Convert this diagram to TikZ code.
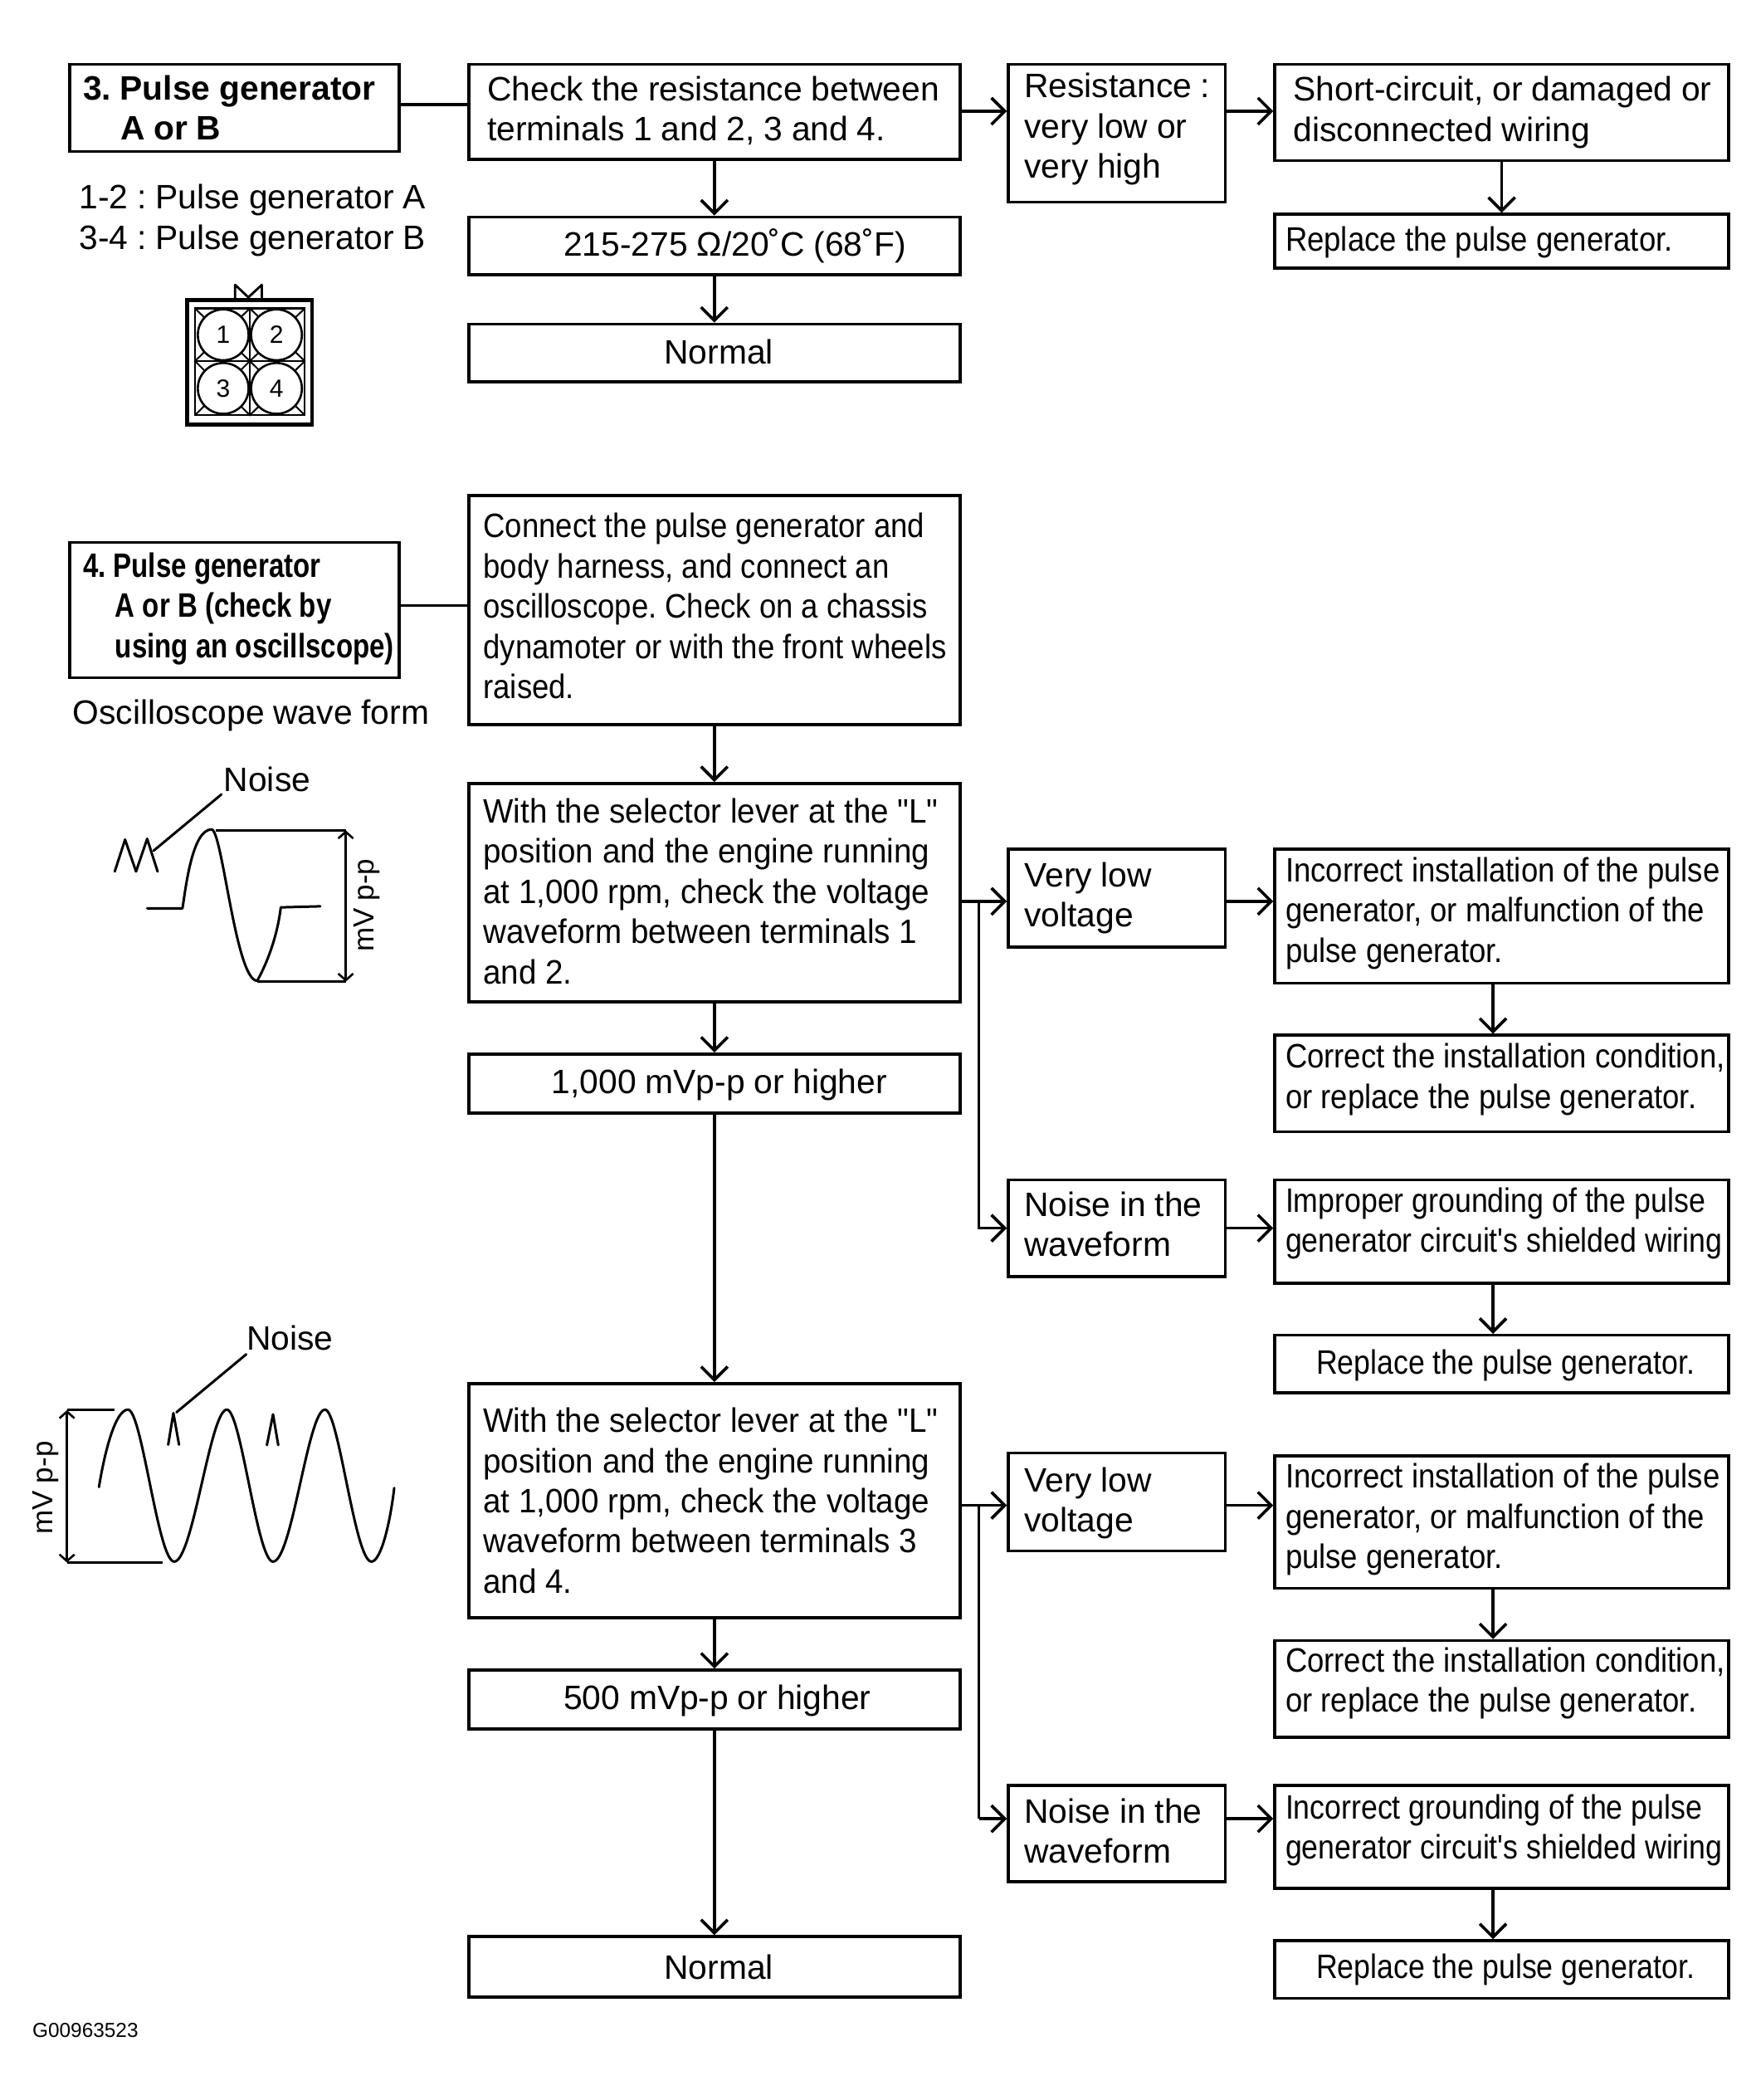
\documentclass[tikz,border=0pt]{standalone}
\usepackage{fontspec}
\usetikzlibrary{arrows.meta}
\setmainfont[WordSpace=0.95]{Liberation Sans}
\newfontfamily\nar[FakeStretch=0.895]{Liberation Sans}
\newfontfamily\narg[FakeStretch=0.875]{Liberation Sans}
\newfontfamily\narl[FakeStretch=0.945]{Liberation Sans}
\newfontfamily\narb[FakeStretch=0.81]{Liberation Sans Bold}
\tikzset{
  flowbox/.style={draw=black,line width=1.8pt,fill=white,align=left,inner ysep=0pt,
    font=\fontsize{20.4}{24.2}\selectfont\frenchspacing},
  plainlink/.style={line width=1.8pt},
  arrowlink/.style={line width=1.8pt,-{Straight Barb[length=8pt,width=16pt,line width=1.8pt]}},
  wave/.style={line width=1.5pt,line join=round,line cap=round},
  dimline/.style={line width=1.5pt},
  dimarrow/.style={line width=1.5pt,{Straight Barb[length=4pt,width=9pt,line width=1.3pt]}-{Straight Barb[length=4pt,width=9pt,line width=1.3pt]}},
  lbl/.style={inner sep=0pt,font=\fontsize{20.4}{24.2}\selectfont\frenchspacing},
  pin/.style={circle,draw=black,line width=1.3pt,fill=white,minimum size=30.6pt,inner sep=0pt,font=\fontsize{15}{18}\selectfont},
}
\newcommand{\ml}[1]{\mbox{#1}}
% [vertical text shift, up positive]{name}{x1}{y1}{x2}{y2}{text x}{text}
\newcommand{\bx}[8][0]{%
  \pgfmathsetmacro\bw{(#5-#3)*0.8069}%
  \pgfmathsetmacro\bh{(#6-#4)*0.8069}%
  \pgfmathsetmacro\bs{(#7-#3)*0.8069}%
  \pgfmathsetmacro\bt{\bw-2*\bs}%
  \pgfmathsetmacro\bv{(#1)*0.8069}%
  \node[flowbox,minimum height=\bh pt,inner xsep=\bs pt,text width=\bt pt] (#2) at ({(#3+#5)/2},{(#4+#6)/2})
    {\raisebox{\bv pt}[\height][\depth]{\parbox[c]{\bt pt}{\spaceskip=0pt\xspaceskip=0pt #8}}};%
}
\begin{document}
\begin{tikzpicture}[x=0.8069pt,y=-0.8069pt]
\useasboundingbox (0,0) rectangle (1315,1568);

% --- section 3 ---
\bx{hthree}{52}{48}{298}{113}{62}{\bfseries\ml{3. Pulse generator}\\\hspace*{22.6pt}\ml{A or B}}
\bx[1]{check}{350}{48}{717}{119}{364}{\ml{Check the resistance between}\\\ml{terminals 1 and 2, 3 and 4.}}
\bx{ohm}{350}{162}{717}{205}{421}{\ml{215-275 Ω/20˚C (68˚F)}}
\bx[1]{normA}{350}{242}{717}{285}{496}{\ml{Normal}}
\bx[3]{resist}{753}{48}{915}{151}{765}{\ml{Resistance :}\\\ml{very low or}\\\ml{very high}}
\bx{short}{952}{48}{1291}{120}{966}{\ml{Short-circuit, or damaged or}\\\ml{disconnected wiring}}
\bx[-1]{replA}{952}{160}{1291}{200}{960}{\nar\ml{Replace the pulse generator.}}

% --- section 4 ---
\bx[1]{hfour}{52}{405}{298}{506}{62}{\narb\ml{4. Pulse generator}\\\hspace*{19.4pt}\ml{A or B (check by}\\\hspace*{19.4pt}\ml{using an oscillscope)}}
\bx[3]{connect}{350}{370}{717}{541}{361}{\nar\ml{Connect the pulse generator and}\\\ml{body harness, and connect an}\\\ml{oscilloscope. Check on a chassis}\\\ml{dynamoter or with the front wheels}\\\ml{raised.}}
\bx[1]{withA}{350}{585}{717}{748}{361}{\narl\ml{With the selector lever at the "L"}\\\ml{position and the engine running}\\\ml{at 1,000 rpm, check the voltage}\\\ml{waveform between terminals 1}\\\ml{and 2.}}
\bx[-1]{mvA}{350}{787}{717}{831}{412}{\ml{1,000 mVp-p or higher}}
\bx{lowA}{753}{634}{915}{707}{765}{\ml{Very low}\\\ml{voltage}}
\bx[2]{incA}{952}{634}{1291}{734}{960}{\nar\ml{Incorrect installation of the pulse}\\\ml{generator, or malfunction of the}\\\ml{pulse generator.}}
\bx[3]{corA}{952}{773}{1291}{845}{960}{\nar\ml{Correct the installation condition,}\\\ml{or replace the pulse generator.}}
\bx[3]{noiseA}{753}{881}{915}{953}{765}{\ml{Noise in the}\\\ml{waveform}}
\bx[6]{groundA}{952}{881}{1291}{958}{960}{\narg\ml{Improper grounding of the pulse}\\\ml{generator circuit's shielded wiring}}
\bx[-1]{replB}{952}{997}{1291}{1040}{983}{\narg\ml{Replace the pulse generator.}}
\bx{withB}{350}{1033}{717}{1208}{361}{\narl\ml{With the selector lever at the "L"}\\\ml{position and the engine running}\\\ml{at 1,000 rpm, check the voltage}\\\ml{waveform between terminals 3}\\\ml{and 4.}}
\bx[-1]{mvB}{350}{1247}{717}{1291}{421}{\ml{500 mVp-p or higher}}
\bx{normB}{350}{1446}{717}{1491}{496}{\ml{Normal}}
\bx[-1]{lowB}{753}{1085}{915}{1158}{765}{\ml{Very low}\\\ml{voltage}}
\bx[2]{incB}{952}{1087}{1291}{1186}{960}{\nar\ml{Incorrect installation of the pulse}\\\ml{generator, or malfunction of the}\\\ml{pulse generator.}}
\bx[4]{corB}{952}{1225}{1291}{1297}{960}{\nar\ml{Correct the installation condition,}\\\ml{or replace the pulse generator.}}
\bx[2]{noiseB}{753}{1333}{915}{1405}{765}{\ml{Noise in the}\\\ml{waveform}}
\bx[5]{groundB}{952}{1333}{1291}{1410}{960}{\narg\ml{Incorrect grounding of the pulse}\\\ml{generator circuit's shielded wiring}}
\bx{replC}{952}{1449}{1291}{1492}{983}{\narg\ml{Replace the pulse generator.}}

% --- free text ---
\node[lbl,anchor=base west] (tA) at (59,156) {1-2 : Pulse generator A};
\node[lbl,anchor=base west] (tB) at (59,186) {3-4 : Pulse generator B};
\node[lbl,anchor=base west] (tC) at (54,541) {Oscilloscope wave form};
\node[lbl,anchor=base west] (nA) at (167,591) {Noise};
\node[lbl,anchor=base west] (nB) at (184,1008) {Noise};
\node[lbl,rotate=90,font=\fontsize{17.5}{20}\selectfont] (mA) at (274,676) {mV p-p};
\node[lbl,rotate=90,font=\fontsize{17.5}{20}\selectfont] (mB) at (34,1111) {mV p-p};
\node[inner sep=0pt,anchor=base west,font=\fontsize{12.2}{14}\selectfont] (code) at (24,1521) {G00963523};

% --- junction coordinates ---
\coordinate (jA) at (731,673);
\coordinate (jB) at (731,1124);
\coordinate (jC) at (731,1358);
\coordinate (vx) at (1115,0);
\coordinate (hA) at (0,78);
\coordinate (hB) at (0,83);
\coordinate (hC) at (0,452);

% --- connectors ---
\draw[plainlink] (hA -| hthree.east) -- (hA -| check.west);
\draw[arrowlink] (hB -| check.east) -- (hB -| resist.west);
\draw[arrowlink] (hB -| resist.east) -- (hB -| short.west);
\draw[arrowlink] (check.south) -- (ohm.north);
\draw[arrowlink] (ohm.south) -- (normA.north);
\draw[arrowlink] (short.south) -- (replA.north);
\draw[plainlink] (hC -| hfour.east) -- (hC -| connect.west);
\draw[arrowlink] (connect.south) -- (withA.north);
\draw[arrowlink] (withA.south) -- (mvA.north);
\draw[arrowlink] (mvA.south) -- (withB.north);
\draw[arrowlink] (withB.south) -- (mvB.north);
\draw[arrowlink] (mvB.south) -- (normB.north);
\draw[arrowlink] (jA -| withA.east) -- (jA -| lowA.west);
\draw[arrowlink] (jA) |- (noiseA.west);
\draw[arrowlink] (jA -| lowA.east) -- (jA -| incA.west);
\draw[arrowlink] (noiseA.east) -- (noiseA.east -| groundA.west);
\draw[arrowlink] (incA.south -| vx) -- (corA.north -| vx);
\draw[arrowlink] (groundA.south -| vx) -- (replB.north -| vx);
\draw[arrowlink] (jB -| withB.east) -- (jB -| lowB.west);
\draw[plainlink] (jB) -- (jC);
\draw[arrowlink] (jC) -- (jC -| noiseB.west);
\draw[arrowlink] (jB -| lowB.east) -- (jB -| incB.west);
\draw[arrowlink] (jC -| noiseB.east) -- (jC -| groundB.west);
\draw[arrowlink] (incB.south -| vx) -- (corB.north -| vx);
\draw[arrowlink] (groundB.south -| vx) -- (replC.north -| vx);

% --- connector drawing ---
\draw[line width=2.4pt] (140,224) rectangle (233,317);
\draw[line width=1.2pt] (145.6,230.3) rectangle (227.6,310);
\draw[line width=1.2pt] (186.6,230.3) -- (186.6,310) (145.6,269.6) -- (227.6,269.6);
\draw[line width=1pt] (145.6,230.3) -- (186.6,269.6) -- (227.6,230.3)
  (145.6,310) -- (186.6,269.6) -- (227.6,310)
  (186.6,230.3) -- (145.6,269.6) -- (186.6,310) -- (227.6,269.6) -- cycle;
\node[pin] (p1) at (166.7,250) {1};
\node[pin] (p2) at (206.5,250) {2};
\node[pin] (p3) at (166.7,290) {3};
\node[pin] (p4) at (206.5,290) {4};
\draw[line width=1.4pt,line join=round] (175.6,223) -- (175.6,212.7) -- (185.5,222) -- (195.5,212.7) -- (195.5,223);

% --- waveform 1 ---
\draw[wave] (165.3,593.2) -- (114.7,635.2);
\draw[wave] (85.7,650.7) -- (93.4,626.9) -- (101.6,650.7) -- (109.9,626.3) -- (117.7,650.7);
\draw[wave] (109.9,678.2) -- (136.3,678.2) .. controls (139,660) and (144,619.3) .. (158,619.3)
  .. controls (166,619.3) and (176,732.3) .. (192.1,732.3)
  .. controls (199,720) and (207,700) .. (209.7,677.5) -- (239.2,676.7);
\draw[dimline] (161.1,620) -- (258.2,620) (192.1,733) -- (258.2,733);
\draw[dimarrow] (258.2,620) -- (258.2,733);

% --- waveform 2 ---
\draw[wave] (131.8,1054.5) -- (183.9,1011.2);
\draw[wave] (125.6,1078.7) -- (129.5,1055.1) -- (133.7,1078.7);
\draw[wave] (199.3,1079) -- (203.9,1056) -- (207.8,1079);
\draw[wave] (73.9,1110.3) .. controls (78,1085) and (86,1052.5) .. (95.6,1052.5)
  .. controls (106,1052.5) and (118,1166) .. (130.1,1166)
  .. controls (144,1166) and (157,1052.5) .. (169.4,1052.5)
  .. controls (180,1052.5) and (192,1166) .. (203.9,1166)
  .. controls (218,1166) and (230,1052.5) .. (242.7,1052.5)
  .. controls (253,1052.5) and (265,1166) .. (277.4,1166)
  .. controls (284,1166) and (291,1140) .. (294.4,1111);
\draw[dimline] (50,1052.9) -- (85.7,1052.9) (50,1166.7) -- (121.5,1166.7);
\draw[dimarrow] (50,1052.9) -- (50,1166.7);
\end{tikzpicture}
\end{document}
